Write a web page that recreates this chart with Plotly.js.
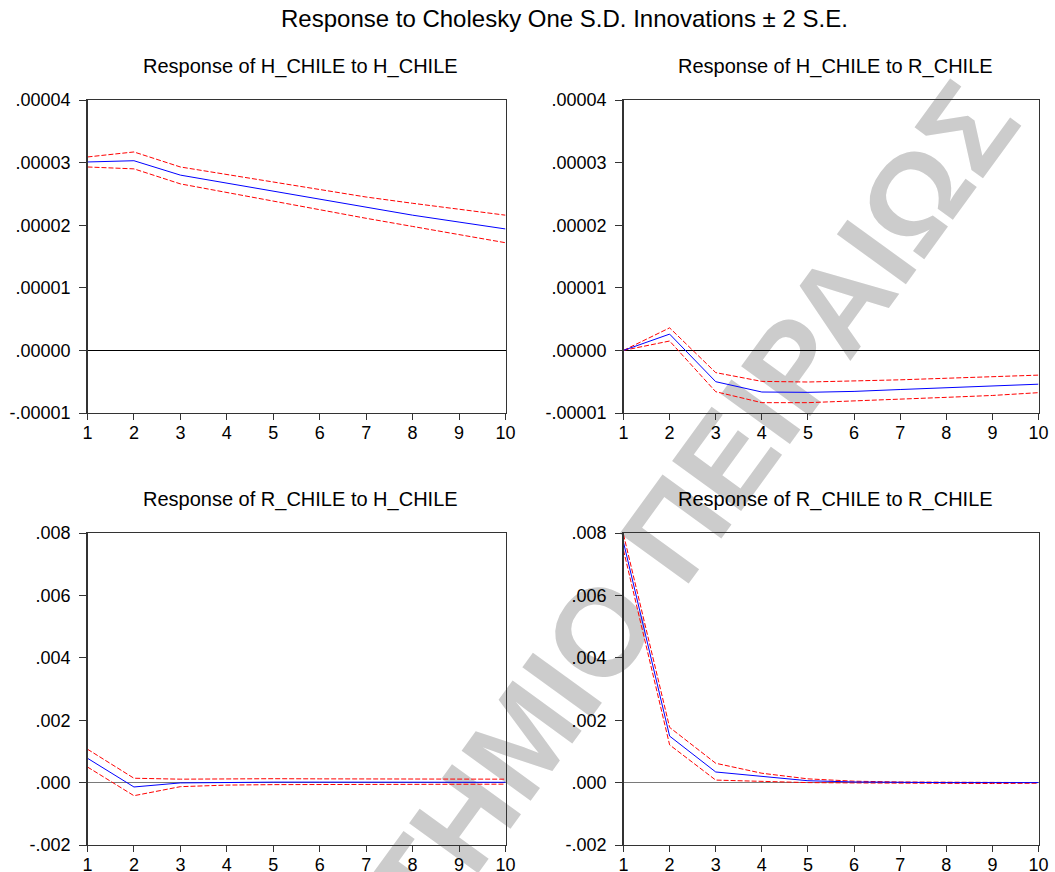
<!DOCTYPE html>
<html>
<head>
<meta charset="utf-8">
<script src="https://cdn.plot.ly/plotly-3.0.1.min.js"></script>
<style>
  html, body { margin: 0; padding: 0; background: #ffffff; }
  #chart { width: 1055px; height: 872px; }
</style>
</head>
<body>
<div id="chart"></div>
<script>
// ---------------- data ----------------
const periods = [1, 2, 3, 4, 5, 6, 7, 8, 9, 10];
const periodLabels = ["1", "2", "3", "4", "5", "6", "7", "8", "9", "10"];

// Response of H_CHILE to H_CHILE
const respHH  = [0.0000301, 0.0000303, 0.0000280, 0.0000267, 0.0000254, 0.0000241, 0.0000228, 0.0000216, 0.0000205, 0.0000194];
const upperHH = [0.0000309, 0.0000317, 0.0000293, 0.0000281, 0.0000269, 0.0000257, 0.0000245, 0.0000235, 0.0000225, 0.0000216];
const lowerHH = [0.0000293, 0.0000290, 0.0000266, 0.0000252, 0.0000239, 0.0000225, 0.0000211, 0.0000198, 0.0000185, 0.0000172];

// Response of H_CHILE to R_CHILE
const respHR  = [0, 0.0000026, -0.0000050, -0.00000665, -0.0000067, -0.00000655, -0.00000625, -0.0000060, -0.0000057, -0.0000054];
const upperHR = [0, 0.0000036, -0.00000355, -0.00000495, -0.00000505, -0.0000049, -0.0000047, -0.00000445, -0.0000042, -0.00000395];
const lowerHR = [0, 0.0000015, -0.0000066, -0.00000835, -0.00000835, -0.0000081, -0.0000078, -0.0000075, -0.0000072, -0.00000675];

// Response of R_CHILE to H_CHILE
const respRH  = [0.00078, -0.00014, -0.00001, 0.00001, 0.000015, 0.000015, 0.000012, 0.000012, 0.00001, 0.00001];
const upperRH = [0.00107, 0.00014, 0.00011, 0.000125, 0.000125, 0.00012, 0.00012, 0.000115, 0.000115, 0.00011];
const lowerRH = [0.00050, -0.00042, -0.00013, -0.00008, -0.000065, -0.00006, -0.00006, -0.000055, -0.000055, -0.00005];

// Response of R_CHILE to R_CHILE
const respRR  = [0.0077, 0.00149, 0.00034, 0.00019, 0.00006, 0.00002, 0.000005, 0, 0, 0];
const upperRR = [0.00795, 0.00177, 0.00062, 0.00030, 0.00012, 0.000045, 0.00002, 0.00001, 0.000005, 0];
const lowerRR = [0.00745, 0.00121, 0.00008, 0.00003, 0, -0.00001, -0.00002, -0.00003, -0.00003, -0.00002];

// tick labels
const hTickVals = [-0.00001, 0, 0.00001, 0.00002, 0.00003, 0.00004];
const hTickText = ["-.00001", ".00000", ".00001", ".00002", ".00003", ".00004"];
const rTickVals = [-0.002, 0, 0.002, 0.004, 0.006, 0.008];
const rTickText = ["-.002", ".000", ".002", ".004", ".006", ".008"];

const mainTitle = "Response to Cholesky One S.D. Innovations \u00b1 2 S.E.";
const panelTitles = [
  "Response of H_CHILE to H_CHILE",
  "Response of H_CHILE to R_CHILE",
  "Response of R_CHILE to H_CHILE",
  "Response of R_CHILE to R_CHILE"
];
const watermark = "\u03a0\u0391\u039d\u0395\u03a0\u0399\u03a3\u03a4\u0397\u039c\u0399\u039f \u03a0\u0395\u0399\u03a1\u0391\u0399\u03a9\u03a3";

// ---------------- layout helpers ----------------
const W = 1055, H = 872;
const FONT = "Liberation Sans, Arial, Helvetica, sans-serif";
const px = v => v / W;
const py = v => 1 - v / H;

const panels = [
  {x0: 87.5, x1: 505.5, top: 100, bottom: 413, resp: respHH, up: upperHH, lo: lowerHH, tv: hTickVals, tt: hTickText, zc: "#000000", zw: 1},
  {x0: 623.5, x1: 1038.5, top: 100, bottom: 413, resp: respHR, up: upperHR, lo: lowerHR, tv: hTickVals, tt: hTickText, zc: "#000000", zw: 1},
  {x0: 87.5, x1: 505.5, top: 533, bottom: 845, resp: respRH, up: upperRH, lo: lowerRH, tv: rTickVals, tt: rTickText, zc: "#7a7a7a", zw: 1.8},
  {x0: 623.5, x1: 1038.5, top: 533, bottom: 845, resp: respRR, up: upperRR, lo: lowerRR, tv: rTickVals, tt: rTickText, zc: "#7a7a7a", zw: 1.8}
];

const traces = [];
const layout = {
  width: W, height: H, autosize: false,
  margin: {l: 0, r: 0, t: 0, b: 0, pad: 0},
  paper_bgcolor: "#ffffff",
  plot_bgcolor: "rgba(0,0,0,0)",
  showlegend: false,
  font: {family: FONT, color: "#000000"},
  annotations: [],
  shapes: []
};

panels.forEach((p, i) => {
  const n = i + 1;
  const xa = n === 1 ? "x" : "x" + n;
  const ya = n === 1 ? "y" : "y" + n;
  const xk = n === 1 ? "xaxis" : "xaxis" + n;
  const yk = n === 1 ? "yaxis" : "yaxis" + n;

  ["up", "lo"].forEach(k => {
    traces.push({
      x: periods, y: p[k], xaxis: xa, yaxis: ya, type: "scatter", mode: "lines",
      line: {color: "#ff0000", width: 1, dash: "5px,2px"}, hoverinfo: "skip", cliponaxis: false
    });
  });
  traces.push({
    x: periods, y: p.resp, xaxis: xa, yaxis: ya, type: "scatter", mode: "lines",
    line: {color: "#0000ff", width: 1}, hoverinfo: "skip", cliponaxis: false
  });

  layout[xk] = {
    domain: [px(p.x0), px(p.x1)], anchor: ya, range: [1, 10],
    tickmode: "array", tickvals: periods, ticktext: periodLabels,
    ticks: "outside", ticklen: 6, tickwidth: 1, tickcolor: "#333333",
    ticklabelstandoff: -3,
    showline: true, linecolor: "#333333", linewidth: 1.4, mirror: true,
    showgrid: false, zeroline: false, fixedrange: true,
    tickfont: {family: FONT, size: 18, color: "#000000"}
  };
  layout[yk] = {
    domain: [py(p.bottom), py(p.top)], anchor: xa, range: [p.tv[0], p.tv[p.tv.length - 1]],
    tickmode: "array", tickvals: p.tv, ticktext: p.tt,
    ticks: "outside", ticklen: 7, tickwidth: 1, tickcolor: "#333333",
    ticklabelstandoff: 5,
    showline: true, linecolor: "#333333", linewidth: 1.4, mirror: true,
    showgrid: false, zeroline: true, zerolinecolor: p.zc, zerolinewidth: p.zw,
    fixedrange: true,
    tickfont: {family: FONT, size: 18, color: "#000000"}
  };

  layout.annotations.push({
    text: panelTitles[i], xref: "paper", yref: "paper",
    x: px((p.x0 + p.x1) / 2 + 4), y: py(p.top - 34),
    xanchor: "center", yanchor: "middle", showarrow: false,
    font: {family: FONT, size: 20, color: "#000000"}
  });
});

layout.annotations.push({
  text: mainTitle, xref: "paper", yref: "paper",
  x: px(564.5), y: py(18.5), xanchor: "center", yanchor: "middle", showarrow: false,
  font: {family: FONT, size: 24, color: "#000000"}
});

// watermark behind the plots
const wx = 520, wy = 722;
layout.shapes.push({
  type: "rect", xref: "paper", yref: "paper", layer: "below",
  x0: px(wx - 1), x1: px(wx + 1), y0: py(wy + 1), y1: py(wy - 1),
  line: {width: 0}, fillcolor: "rgba(0,0,0,0)",
  label: {
    text: "<b>" + watermark + "</b>", textangle: -54, textposition: "middle center",
    font: {family: FONT, size: 124, color: "#cccccc"}
  }
});

Plotly.newPlot("chart", traces, layout, {staticPlot: true, displayModeBar: false});
</script>
</body>
</html>
